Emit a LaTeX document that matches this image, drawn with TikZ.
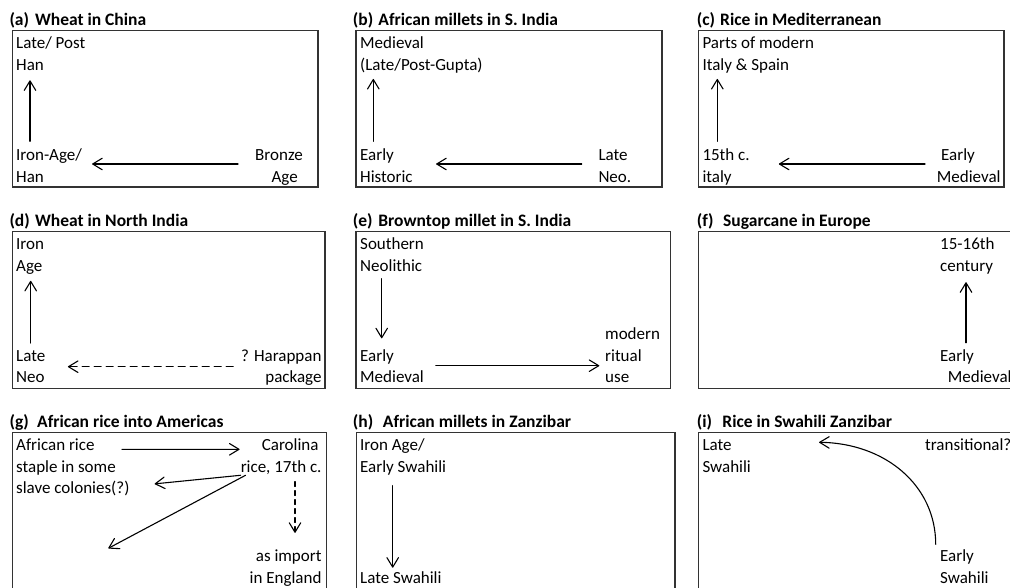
\documentclass[tikz,border=0pt]{standalone}
\usepackage{fontspec}
\setmainfont{Carlito}
\usetikzlibrary{arrows.meta}
\newcommand{\plabel}[2][25.5pt]{\makebox[#1][l]{#2}}
\begin{document}
\begin{tikzpicture}[x=1pt,y=-1pt,
    box/.style={draw=black!80,line width=1.4pt},
    ttl/.style={anchor=base west,inner sep=0pt,font=\fontsize{17.5}{21}\selectfont\bfseries},
    lbl/.style={anchor=base west,inner sep=0pt,align=left,font=\fontsize{17}{21.7}\selectfont},
    rlbl/.style={lbl,anchor=base east,align=right},
    arr/.style={line width=1.1pt,line cap=round,-{Straight Barb[length=9.5pt,width=11.5pt,round]}},
    dsh/.style={dash pattern=on 7pt off 5pt},
    dshort/.style={dash pattern=on 5pt off 4pt}]
    
    \useasboundingbox (0,0) rectangle (1010,587);
    
    \draw[box] (12.7,30.5) rectangle (318,187);
    \node[ttl] (ta) at (9.3,25) {\plabel{(a)}Wheat in China};
    \node[lbl] (aHan) at (16,70) {Late/ Post\\Han};
    \node[lbl] (aIron) at (16,182) {Iron-Age/\\Han};
    \node[rlbl] (aBronze) at (303,182) {Bronze\\Age\hspace*{5pt}};
    \draw[arr,shorten <=7pt,shorten >=10pt] ([xshift=14pt]aIron.north west) -- ([xshift=14pt]aHan.south west);
    \draw[arr,shorten <=17pt,shorten >=10pt] ([yshift=18pt]aBronze.base west) -- ([yshift=18pt]aIron.base east);
    
    \draw[box] (356,30.5) rectangle (662,187);
    \node[ttl] (tb) at (352.7,25) {\plabel{(b)}African millets in S. India};
    \node[lbl] (bMed) at (360,70) {Medieval\\(Late/Post-Gupta)};
    \node[lbl] (bEarly) at (360,182) {Early\\Historic};
    \node[lbl] (bLate) at (598.3,182) {Late\\Neo.};
    \draw[arr,shorten <=7pt,shorten >=6pt] ([xshift=13.3pt]bEarly.north west) -- ([xshift=13.3pt]bMed.south west);
    \draw[arr,shorten <=16.6pt,shorten >=23.3pt] ([yshift=18pt]bLate.base west) -- ([yshift=18pt]bEarly.base east);
    
    \draw[box] (698.3,30.5) rectangle (1004,187);
    \node[ttl] (tc) at (696.7,25) {\plabel[23.3pt]{(c)}Rice in Mediterranean};
    \node[lbl] (cParts) at (702.3,70) {Parts of modern\\Italy \& Spain};
    \node[lbl] (c15) at (702.3,182) {15th c.\\italy};
    \node[lbl] (cEarly) at (936.7,182) {\hspace*{4.3pt}Early\\Medieval};
    \draw[arr,shorten <=7pt,shorten >=6pt] ([xshift=15pt]c15.north west) -- ([xshift=15pt]cParts.south west);
    \draw[arr,shorten <=11.7pt,shorten >=29pt] ([yshift=18pt]cEarly.base west) -- ([yshift=18pt]c15.base east);
    
    \draw[box] (12.7,231.5) rectangle (325,388.5);
    \node[ttl] (td) at (9.3,226) {\plabel{(d)}Wheat in North India};
    \node[lbl] (dIron) at (16,271) {Iron\\Age};
    \node[lbl] (dLate) at (16,382.7) {Late\\Neo};
    \node[rlbl] (dHar) at (321.7,382.7) {? Harappan\\package};
    \draw[arr,shorten <=6.7pt,shorten >=6.7pt] ([xshift=14.7pt]dLate.north west) -- ([xshift=14.7pt]dIron.south west);
    \draw[arr,dsh,shorten <=7.7pt,shorten >=22.4pt] ([yshift=16pt]dHar.base west) -- ([yshift=16pt]dLate.base east);
    
    \draw[box] (356,231.5) rectangle (670.7,388.5);
    \node[ttl] (te) at (352.7,226) {\plabel{(e)}Browntop millet in S. India};
    \node[lbl] (eSouth) at (360,271) {Southern\\Neolithic};
    \node[lbl] (eEarly) at (360,382.7) {Early\\Medieval};
    \node[lbl] (eMod) at (605,382.7) {modern\\ritual\\use};
    \draw[arr,shorten <=7.3pt,shorten >=10.7pt] ([xshift=21.7pt]eSouth.south west) -- ([xshift=21.7pt]eEarly.north west);
    \draw[arr,shorten <=11.7pt,shorten >=5.7pt] ([yshift=17pt]eEarly.base east) -- ([yshift=17pt]eMod.base west);
    
    \draw[box] (698.3,231.5) rectangle (1016,388.5);
    \node[ttl] (tf) at (696.7,226) {\plabel[26.3pt]{(f)}Sugarcane in Europe};
    \node[lbl] (f15) at (940,271) {15-16th\\century};
    \node[lbl] (fEarly) at (940,382.7) {Early\\\hspace*{7.7pt}Medieval};
    \draw[arr,shorten <=6.2pt,shorten >=8.3pt] ([xshift=26pt]fEarly.north west) -- ([xshift=26pt]f15.south west);
    
    \draw[box] (12.7,432.5) rectangle (326.7,590);
    \node[ttl] (tg) at (9.3,427.7) {\plabel[27.7pt]{(g)}African rice into Americas};
    \node[lbl] (gAfr) at (16,493.9) {African rice\\staple in some\\slave colonies(?)};
    \node[rlbl] (gCar) at (321.7,472.2) {Carolina\hspace*{3pt}\\rice, 17th c.};
    \node[rlbl] (gImp) at (321.7,583.4) {as import\\in England};
    \coordinate (gLost) at (108.3,548.3);
    \draw[arr,shorten >=1pt] ([xshift=-7.7pt,yshift=44.6pt]gAfr.base east) -- ([yshift=22.9pt]gCar.base west);
    \draw[arr] ([yshift=-0.7pt]gCar.south west) -- ([xshift=25pt,yshift=12.6pt]gAfr.south east);
    \draw[arr] ([xshift=5pt,yshift=-0.7pt]gCar.south west) -- (gLost);
    \draw[arr,dshort,shorten <=7pt,shorten >=17pt] ([xshift=-26.7pt]gCar.south east) -- ([xshift=-26.7pt]gImp.north east);
    
    \draw[box] (356.7,432.5) rectangle (675,590);
    \node[ttl] (th) at (352.7,427.7) {\plabel[30pt]{(h)}African millets in Zanzibar};
    \node[lbl] (hIron) at (360,472.2) {Iron Age/\\Early Swahili};
    \node[lbl] (hLate) at (360,583.3) {Late Swahili};
    \draw[arr,shorten <=10.4pt,shorten >=3.6pt] ([xshift=32.7pt]hIron.south west) -- ([xshift=32.7pt]hLate.north west);
    
    \draw[box] (698.3,432.5) rectangle (1016,590);
    \node[ttl] (ti) at (696.7,427.7) {\plabel{(i)}Rice in Swahili Zanzibar};
    \node[lbl] (iLate) at (702.3,472.2) {Late\\Swahili};
    \node[lbl] (iTrans) at (925,450.5) {transitional?};
    \node[lbl] (iEarly) at (940,583.4) {Early\\Swahili};
    \draw[arr] ([xshift=-4.3pt,yshift=5.4pt]iEarly.north west) .. controls +(0,-59) and +(66,0.7) .. ([xshift=68pt,yshift=29.9pt]iLate.base east);
    
\end{tikzpicture}
\end{document}
